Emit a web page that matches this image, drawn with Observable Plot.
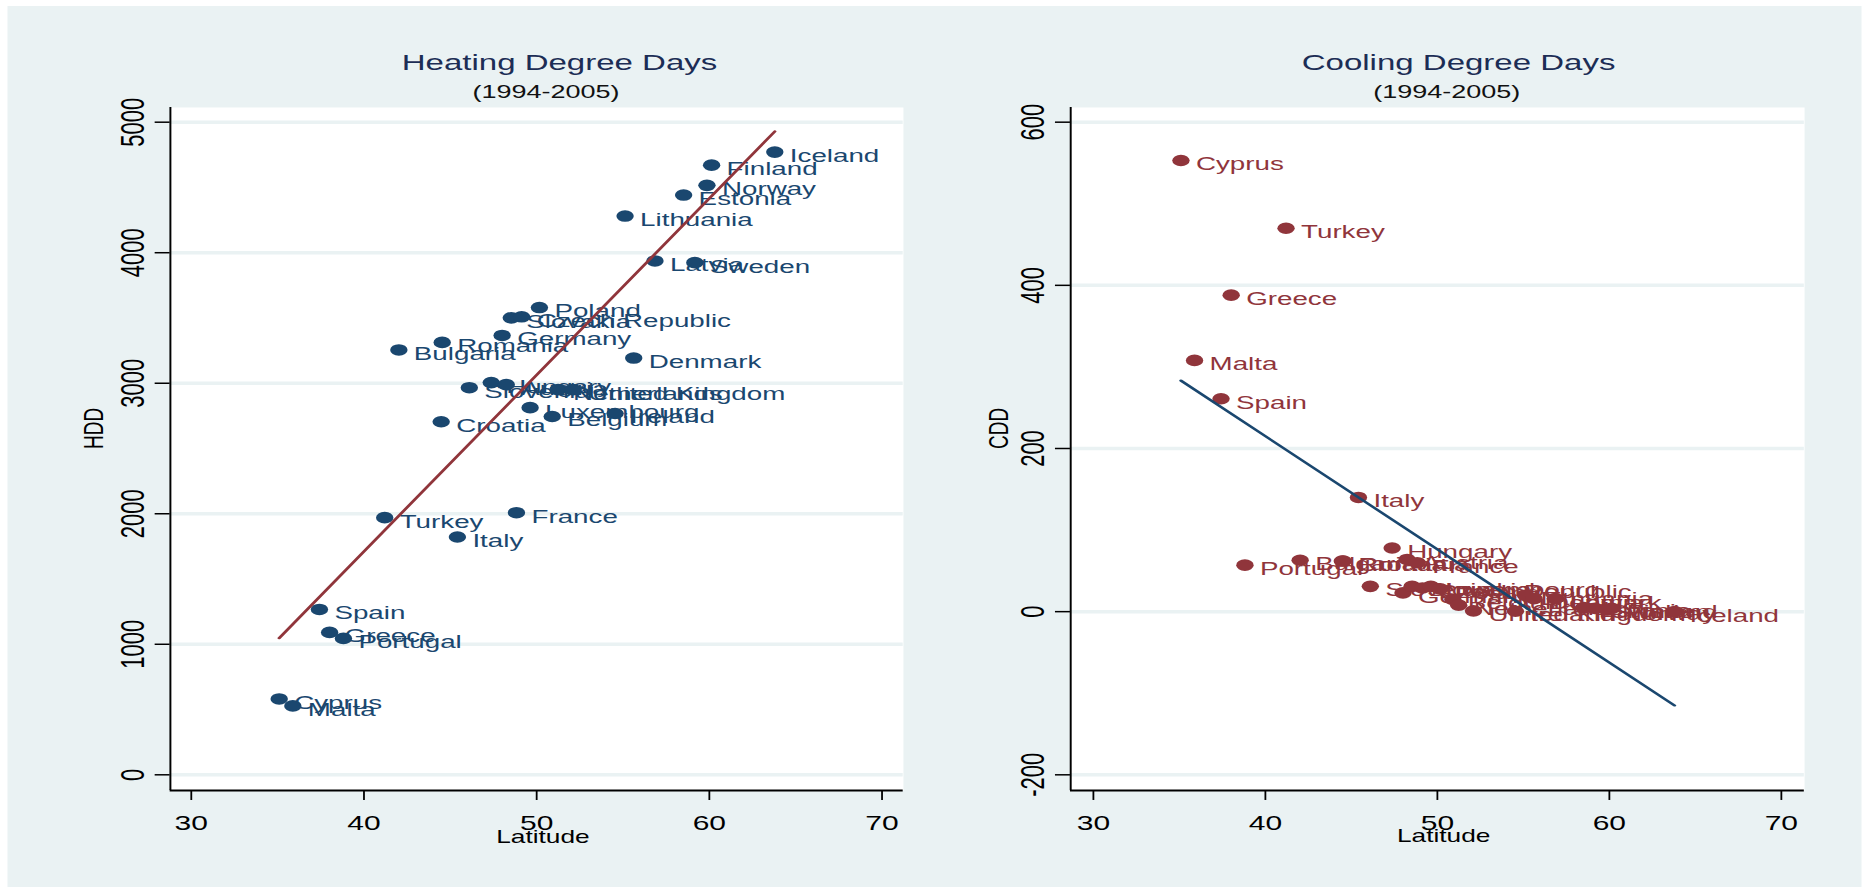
<!DOCTYPE html>
<html>
<head>
<meta charset="utf-8">
<script src="https://cdn.jsdelivr.net/npm/d3@7"></script>
<script src="https://cdn.jsdelivr.net/npm/@observablehq/plot@0.6"></script>
<style>
  html, body { margin: 0; padding: 0; background: #ffffff; overflow: hidden; }
  #wrap { position: absolute; left: 0; top: 0; width: 1244.67px; height: 892px; transform: scaleX(1.5); transform-origin: 0 0; font-family: "Liberation Sans", Arial, sans-serif; }
  #bg { position: absolute; left: 4.67px; top: 6px; width: 1236px; height: 881px; background: #eaf2f3; }
  .ttl { position: absolute; width: 400px; text-align: center; line-height: 1; white-space: nowrap; }
  .main { font-size: 22px; color: #1c2d55; top: 52.4px; }
  .sub { font-size: 18px; color: #111111; top: 83px; }
  .panel { position: absolute; top: 0; }
</style>
</head>
<body>
<div id="wrap">
  <div id="bg"></div>
  <div class="ttl main" style="left:173px">Heating Degree Days</div>
  <div class="ttl sub" style="left:164px">(1994-2005)</div>
  <div class="ttl main" style="left:772.4px">Cooling Degree Days</div>
  <div class="ttl sub" style="left:764.5px">(1994-2005)</div>
  <div id="left" class="panel" style="left:0px"></div>
  <div id="right" class="panel" style="left:622px"></div>
</div>
<script>
const countries = ["Cyprus","Malta","Spain","Greece","Portugal","Turkey","Bulgaria","Croatia","Romania","Italy","Slovenia","Hungary","Germany","Austria","Slovakia","France","Czech Republic","Luxembourg","Poland","Belgium","Netherlands","United Kingdom","Ireland","Lithuania","Denmark","Latvia","Estonia","Sweden","Norway","Finland","Iceland"];
const latitude = [35.09, 35.88, 37.42, 38.01, 38.81, 41.20, 42.02, 44.47, 44.53, 45.41, 46.10, 47.37, 48.00, 48.24, 48.53, 48.83, 49.13, 49.62, 50.16, 50.90, 51.24, 52.10, 54.54, 55.12, 55.62, 56.85, 58.51, 59.16, 59.86, 60.13, 63.79];
const hdd = [581, 528, 1267, 1091, 1045, 1970, 3255, 2705, 3313, 1822, 2966, 3005, 3366, 2989, 3501, 2008, 3509, 2813, 3580, 2745, 2951, 2951, 2768, 4281, 3193, 3937, 4442, 3924, 4516, 4671, 4771];
const cdd = [553, 308, 261, 388, 57, 470, 63, 62, 62, 140, 31, 78, 23, 64, 31, 60, 29, 31, 28, 15, 8, 1, 0.5, 20, 16, 16, 5, 4, 2, 4, 0];

const latTicks = [30, 40, 50, 60, 70];
const hddTicks = [0, 1000, 2000, 3000, 4000, 5000];
const cddTicks = [-200, 0, 200, 400, 600];

const NAVY = "#1a476f";
const MAROON = "#90353b";
const GRID = "#eaf2f3";

const data = countries.map((c, i) => ({country: c, lat: latitude[i], hdd: hdd[i], cdd: cdd[i]}));

function panel({yKey, yTicks, xDomain, yDomain, marginLeft, marginRight, width, yLabel, yLabelDx, dotColor, lineColor}) {
  return Plot.plot({
    width, height: 892,
    marginLeft, marginRight, marginTop: 107, marginBottom: 102,
    x: {domain: xDomain},
    y: {domain: yDomain},
    style: {background: "transparent", color: "black", fontFamily: "'Liberation Sans', Arial, sans-serif", overflow: "visible"},
    marks: [
      Plot.frame({fill: "white", stroke: "none"}),
      Plot.ruleY(yTicks, {stroke: GRID, strokeWidth: 3.5}),
      Plot.ruleX([xDomain[0]], {stroke: "black", strokeWidth: 1.3}),
      Plot.ruleY([yDomain[0]], {stroke: "black", strokeWidth: 2}),
      Plot.axisX({ticks: latTicks, tickSize: 10, tickPadding: 15.5, fontSize: 20, label: null, tickFormat: d => String(d), strokeWidth: 1.2}),
      Plot.axisY({ticks: yTicks, tickSize: 10, tickRotate: -90, tickPadding: 7.9, fontSize: 22, label: null, tickFormat: d => String(d), strokeWidth: 1.5}),
      Plot.text([yLabel], {frameAnchor: "left", dx: yLabelDx, rotate: -90, fontSize: 19, text: d => d}),
      Plot.text(["Latitude"], {frameAnchor: "bottom", dx: 4, dy: 52, fontSize: 17.5, text: d => d}),
      Plot.dot(data, {x: "lat", y: yKey, r: 5.8, fill: dotColor, stroke: "none"}),
      Plot.text(data, {x: "lat", y: yKey, text: "country", textAnchor: "start", dx: 10, dy: 4, fill: dotColor, fontSize: 18.5}),
      Plot.linearRegressionY(data, {x: "lat", y: yKey, stroke: lineColor, strokeWidth: 2.2, ci: 0})
    ]
  });
}

document.getElementById("left").appendChild(panel({
  yKey: "hdd", yTicks: hddTicks, xDomain: [28.79, 71.24], yDomain: [-120.3, 5112.6],
  marginLeft: 113.1, marginRight: 20.2, width: 622, yLabel: "HDD", yLabelDx: -51,
  dotColor: NAVY, lineColor: MAROON
}));

document.getElementById("right").appendChild(panel({
  yKey: "cdd", yTicks: cddTicks, xDomain: [28.68, 71.35], yDomain: [-219.2, 618.0],
  marginLeft: 91.3, marginRight: 42.1, width: 622.67, yLabel: "CDD", yLabelDx: -48,
  dotColor: MAROON, lineColor: NAVY
}));
</script>
</body>
</html>
